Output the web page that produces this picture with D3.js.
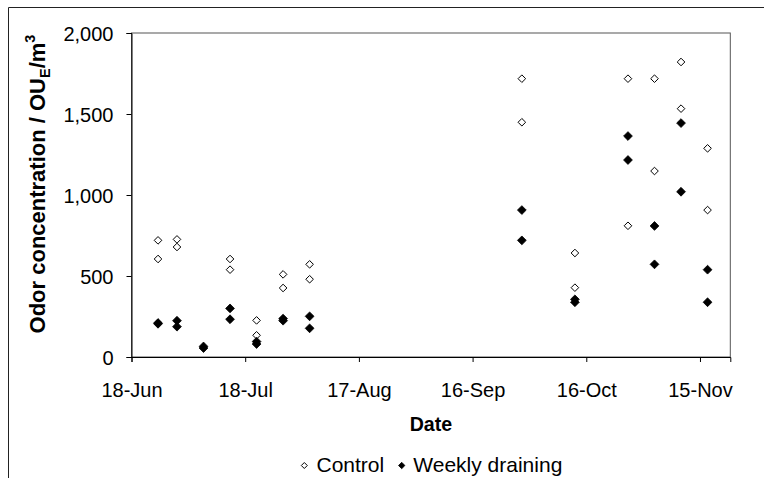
<!DOCTYPE html>
<html><head><meta charset="utf-8">
<script src="https://cdn.jsdelivr.net/npm/d3@7"></script>
<style>
body{margin:0;background:#fff;}
svg text{font-family:"Liberation Sans",Arial,sans-serif;fill:#000;}
</style></head>
<body><svg id="c" width="764" height="478"></svg>
<script>
// ---- data ----
const sampleDates = ["2007-06-25","2007-06-30","2007-07-07","2007-07-14","2007-07-21","2007-07-28","2007-08-04",
  "2007-09-29","2007-10-13","2007-10-27","2007-11-03","2007-11-10","2007-11-17"];
const controlA = [720, 726, null, 605, 226, 510, 572, 1718, 642, 1718, 1718, 1821, 1288];
const controlB = [605, 679, null, 539, 134, 426, 480, 1449, 428, 810, 1148, 1533, 907];
const drainA   = [210, 224, 65, 300, 95, 237, 251, 907, 356, 1364, 809, 1444, 539];
const drainB   = [205, 187, 55, 233, 80, 224, 177, 720, 338, 1216, 572, 1020, 338];
const xTickLabels = ["18-Jun","18-Jul","17-Aug","16-Sep","16-Oct","15-Nov"];
const xTickDates = ["2007-06-18","2007-07-18","2007-08-17","2007-09-16","2007-10-16","2007-11-15"];
const yTicks = [0, 500, 1000, 1500, 2000];
const seriesNames = ["Control", "Weekly draining"];

const svg = d3.select("#c");
const parse = d3.utcParse("%Y-%m-%d");
const L = 131.5, R = 730.3, T = 33, B = 357;
const x = d3.scaleUtc().domain([parse("2007-06-18"), parse("2007-11-23")]).range([L, R]);
const y = d3.scaleLinear().domain([0, 2000]).range([B, T]);

// outer frame
svg.append("path").attr("d", `M8.5,478 V7.5 H764`).attr("fill","none").attr("stroke","#222").attr("stroke-width",1);

// plot frame
svg.append("rect").attr("x", L).attr("y", T).attr("width", R - L).attr("height", B - T)
  .attr("fill","none").attr("stroke","#555").attr("stroke-width",1);

const tickFont = 20;
// y axis
const ya = svg.append("g").attr("transform", `translate(${L},0)`)
  .call(d3.axisLeft(y).tickValues(yTicks).tickFormat(d3.format(",")).tickSize(5).tickPadding(13));
ya.select(".domain").attr("stroke","#000");
ya.selectAll(".tick line").attr("stroke","#000");
ya.selectAll("text").attr("font-size", tickFont).attr("font-family",null).attr("dy","0.37em");

// x axis
const xa = svg.append("g").attr("transform", `translate(0,${B})`)
  .call(d3.axisBottom(x).tickValues(xTickDates.map(parse)).tickFormat((d,i)=>xTickLabels[i]).tickSize(5).tickPadding(21));
xa.select(".domain").attr("stroke","#000");
xa.selectAll(".tick line").attr("stroke","#000");
xa.selectAll("text").attr("font-size", tickFont).attr("font-family",null);

// axis titles
svg.append("text").attr("x", (L + R) / 2).attr("y", 430.7).attr("text-anchor","middle")
  .attr("font-weight","bold").attr("font-size", 19.6).text("Date");

const yt = svg.append("text").attr("transform","translate(45,184) rotate(-90)").attr("text-anchor","middle")
  .attr("font-weight","bold").attr("font-size", 22);
yt.append("tspan").text("Odor concentration / OU");
yt.append("tspan").attr("font-size", 14.5).attr("dy", 5).text("E");
yt.append("tspan").attr("dy", -5).text("/m");
yt.append("tspan").attr("font-size", 14.5).attr("dy", -10).text("3");

// markers
const diamond = (cx, cy, r) => `M${cx},${cy - r} L${cx + r},${cy} L${cx},${cy + r} L${cx - r},${cy} Z`;
function pts(vals) {
  return sampleDates.map((d, i) => ({ d: parse(d), v: vals[i] })).filter(p => p.v != null);
}
const ctrl = pts(controlA).concat(pts(controlB));
const drn = pts(drainA).concat(pts(drainB));

svg.append("g").selectAll("path").data(ctrl).join("path")
  .attr("d", p => diamond(x(p.d), y(p.v), 3.8))
  .attr("fill","#fff").attr("stroke","#000").attr("stroke-width",1);
svg.append("g").selectAll("path").data(drn).join("path")
  .attr("d", p => diamond(x(p.d), y(p.v), 4.4))
  .attr("fill","#000").attr("stroke","#000").attr("stroke-width",0.8);

// legend
const legendFont = 21;
const lg = svg.append("g");
lg.append("path").attr("d", diamond(304.3, 465.5, 3)).attr("fill","#fff").attr("stroke","#000").attr("stroke-width",1);
lg.append("text").attr("x", 316.5).attr("y", 471.7).attr("font-size", legendFont).text(seriesNames[0]);
lg.append("path").attr("d", diamond(401.7, 465.5, 3.2)).attr("fill","#000").attr("stroke","#000").attr("stroke-width",0.8);
lg.append("text").attr("x", 413.3).attr("y", 471.7).attr("font-size", legendFont).text(seriesNames[1]);
</script></body></html>
